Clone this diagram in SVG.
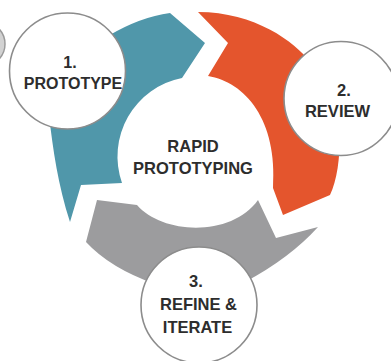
<svg xmlns="http://www.w3.org/2000/svg" width="391" height="361" viewBox="0 0 391 361">
  <style>
    .node { fill: #ffffff; stroke: #8c8c8c; stroke-width: 1.6; }
    .lbl { font-family: "Liberation Sans", Arial, sans-serif; font-weight: bold; fill: #2d2d2d; text-anchor: middle; }
    .teal { fill: #5097aa; }
    .orange { fill: #e4552d; }
    .gray { fill: #9c9c9e; }
  </style>
  <rect width="391" height="361" fill="#ffffff"/>
  <circle cx="-17" cy="44" r="22" fill="#d2d2d2" stroke="#9a9a9a" stroke-width="1.5"/>
  <g id="connectors">
    <path id="arrow-teal" class="teal" d="M 49,115 C 53,150 58,185 70,222 L 81,185 L 122,183 A 80 80 0 0 1 182,78 L 205,43 L 170,13 Q 140,17 108,36 Z"/>
    <path id="arrow-orange" class="orange" d="M 198,12 L 228,43 L 208,76 C 245,82 278,120 273,188 L 283,215 L 330,195 C 337,180 340,160 340,130 L 310,62 C 295,42 255,12 198,12 Z"/>
    <path id="arrow-gray" class="gray" d="M 258,200 L 276,238 L 318,227 Q 290,258 245,282 L 200,290 L 155,284 Q 110,268 86,242 L 97,200 L 137,205 C 163,235 232,237 258,200 Z"/>
  </g>
  <g id="center">
    <text class="lbl" x="193" y="152" font-size="16.5">RAPID</text>
    <text class="lbl" x="193" y="174" font-size="16.5">PROTOTYPING</text>
  </g>
  <g id="node-1">
    <circle class="node" cx="67.5" cy="71" r="58"/>
    <text class="lbl" x="70" y="68" font-size="16">1.</text>
    <text class="lbl" x="73" y="89" font-size="16">PROTOTYPE</text>
  </g>
  <g id="node-2">
    <circle class="node" cx="341" cy="98.5" r="57"/>
    <text class="lbl" x="344" y="96" font-size="16.5">2.</text>
    <text class="lbl" x="337.5" y="117" font-size="16.5">REVIEW</text>
  </g>
  <g id="node-3">
    <circle class="node" cx="199" cy="305" r="58"/>
    <text class="lbl" x="196" y="287" font-size="16.5">3.</text>
    <text class="lbl" x="198.5" y="310" font-size="16.5">REFINE &amp;</text>
    <text class="lbl" x="197.5" y="333" font-size="16.5">ITERATE</text>
  </g>
</svg>
